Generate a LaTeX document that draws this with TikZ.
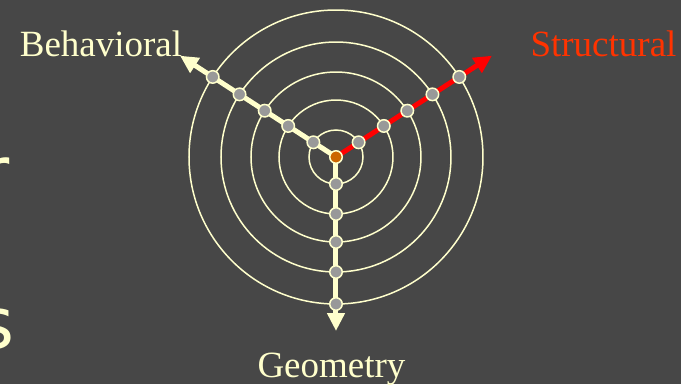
\documentclass[tikz,border=0pt]{standalone}
\usepackage{fontspec}
\setmainfont{Liberation Serif}
\newfontfamily\handfont{DejaVu Sans}
\usetikzlibrary{arrows.meta}
\pgfdeclarelayer{back}
\pgfsetlayers{back,main}

\definecolor{slidebg}{HTML}{474747}
\definecolor{cream}{HTML}{FFFFCC}
\definecolor{levelgray}{HTML}{999999}
\definecolor{centerorange}{HTML}{CC6600}
\definecolor{structred}{HTML}{FF3300}

\tikzset{
    level dot/.style={circle, draw=cream, line width=1.5pt, fill=levelgray, minimum size=12.5pt, inner sep=0pt},
    axis line/.style={line width=5pt, -{Triangle[length=18pt,width=17pt]}},
    axis label/.style={font=\fontsize{37}{40}\selectfont, inner sep=0pt, anchor=base},
    slide letter/.style={font=\handfont\fontsize{71}{75}\selectfont, inner sep=0pt, anchor=base east, text=cream},
}

\begin{document}
\begin{tikzpicture}[x=1pt, y=1pt]
        \useasboundingbox (-336,-227) rectangle (345,157);

        % Cut-off letters of the slide text
        \node at (-326,-40) [slide letter] (letr) {r};
        \node at (-321,-191) [slide letter] (lets) {s};

        % Axis tips
        \coordinate (btip) at (147:186);
        \coordinate (stip) at (33:186);
        \coordinate (gtip) at (-90:174);

        % Level dots on the three axes
        \node at (0,0) [level dot, fill=centerorange] (c) {};
        \foreach \r [count=\i] in {27,57,85,115,147} {
            \node at (147:\r) [level dot] (b\i) {};
            \node at (33:\r) [level dot] (s\i) {};
            \node at (-90:\r) [level dot] (g\i) {};
        }

        % Labels
        \node at (-235,101) [axis label, text=cream] (beh) {Behavioral};
        \node at (267.5,101) [axis label, text=structred] (str) {Structural};
        \node at (-4.5,-220) [axis label, text=cream] (geo) {Geometry};

        \begin{pgfonlayer}{back}
            \fill[slidebg] (-336,-227) rectangle (345,157);
            % Abstraction levels
            \foreach \r in {27,57,85,115,147}
                \draw[cream, line width=1.5pt] (c.center) circle (\r);
            % Axes
            \draw[axis line, cream] (c.center) -- (btip);
            \draw[axis line, cream] (c.center) -- (gtip);
            \draw[axis line, red] (c.center) -- (stip);
        \end{pgfonlayer}
    \end{tikzpicture}
\end{document}
